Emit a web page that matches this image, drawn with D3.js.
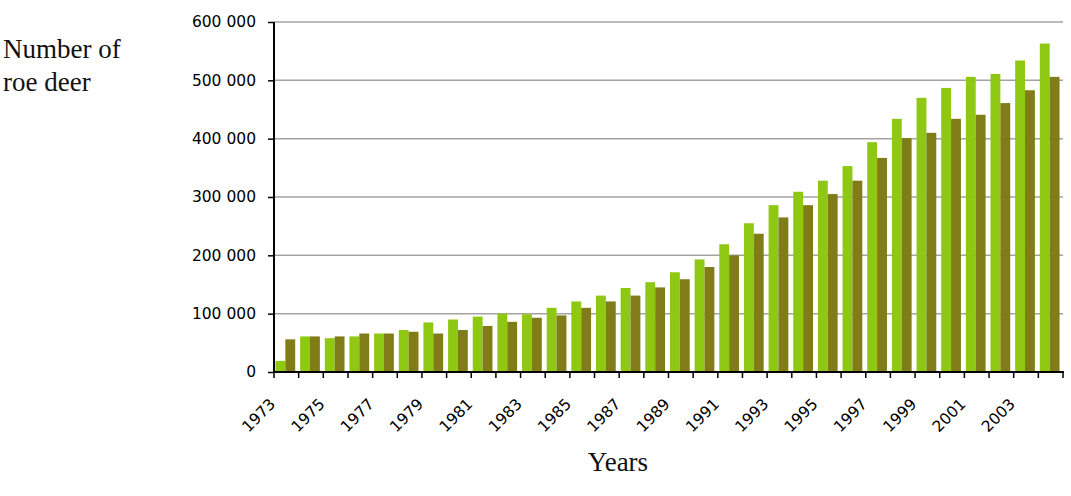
<!DOCTYPE html>
<html>
<head>
<meta charset="utf-8">
<script src="https://cdnjs.cloudflare.com/ajax/libs/d3/7.8.5/d3.min.js"></script>
<style>
  html, body { margin: 0; padding: 0; background: #fff; }
  svg { display: block; }
  .tick-label { font-family: "DejaVu Sans", Verdana, sans-serif; font-size: 15.5px; fill: #000; }
  .title { font-family: "Liberation Serif", "Times New Roman", serif; font-size: 27px; fill: #111; }
  .grid-line { stroke: #a3a3a3; stroke-width: 1.5; }
  .axis-line { stroke: #000; stroke-width: 2; }
  .axis-tick { stroke: #000; stroke-width: 1.5; }
</style>
</head>
<body>
<svg width="1071" height="496"></svg>
<script>
'use strict';

// data
var years = [1973, 1974, 1975, 1976, 1977, 1978, 1979, 1980, 1981, 1982, 1983,
             1984, 1985, 1986, 1987, 1988, 1989, 1990, 1991, 1992, 1993, 1994,
             1995, 1996, 1997, 1998, 1999, 2000, 2001, 2002, 2003, 2004];
var valuesLight = [19000, 61000, 58000, 61000, 66000, 72000, 85000, 90000, 95000, 100000, 99000,
                   110000, 121000, 131000, 144000, 154000, 171000, 193000, 219000, 255000, 286000, 309000,
                   328000, 353000, 394000, 434000, 470000, 487000, 506000, 511000, 534000, 563000];
var valuesDark = [56000, 61000, 61000, 66000, 66000, 69000, 66000, 72000, 79000, 86000, 93000,
                  97000, 110000, 121000, 131000, 145000, 159000, 180000, 200000, 237000, 265000, 286000,
                  305000, 328000, 367000, 401000, 410000, 434000, 441000, 461000, 483000, 506000];
var seriesNames = ['light', 'dark'];
var seriesColors = ['#8fc812', '#807c18'];
var yTicks = [0, 100000, 200000, 300000, 400000, 500000, 600000];
var xTickLabels = ['1973', '1975', '1977', '1979', '1981', '1983', '1985', '1987',
                   '1989', '1991', '1993', '1995', '1997', '1999', '2001', '2003'];

var svg = d3.select('svg');
var margin = { top: 22, right: 8, bottom: 124, left: 274 };
var width = 1071, height = 496;
var innerWidth = width - margin.left - margin.right;
var innerHeight = height - margin.top - margin.bottom;

var xScale = d3.scaleBand().domain(years).range([0, innerWidth]).padding(0);
var bw = xScale.bandwidth();
var xInner = d3.scaleBand().domain(seriesNames).range([bw * 0.06, bw * 0.86]).padding(0);
var yScale = d3.scaleLinear().domain([0, 600000]).range([innerHeight, 0]);

var fmt = d3.formatLocale({ decimal: '.', thousands: ' ', grouping: [3], currency: ['', ''] }).format(',');

var inner = svg.append('g').attr('transform', 'translate(' + margin.left + ',' + margin.top + ')');

// horizontal grid
inner.append('g').selectAll('line').data(yTicks.filter(function (d) { return d > 0; }))
  .enter().append('line').attr('class', 'grid-line')
  .attr('x1', 0).attr('x2', innerWidth)
  .attr('y1', function (d) { return yScale(d); })
  .attr('y2', function (d) { return yScale(d); });

// bars
var rows = years.map(function (y, i) {
  return { year: y, values: [valuesLight[i], valuesDark[i]] };
});
var groups = inner.append('g').selectAll('g').data(rows).enter().append('g')
  .attr('transform', function (d) { return 'translate(' + xScale(d.year) + ',0)'; });
groups.selectAll('rect').data(function (d) { return d.values; }).enter().append('rect')
  .attr('x', function (d, i) { return xInner(seriesNames[i]); })
  .attr('width', xInner.bandwidth())
  .attr('y', function (d) { return yScale(d); })
  .attr('height', function (d) { return innerHeight - yScale(d); })
  .attr('fill', function (d, i) { return seriesColors[i]; });

// y axis
var yAxis = d3.axisLeft(yScale).tickValues(yTicks).tickSize(6).tickPadding(12).tickFormat(fmt);
var ya = inner.append('g').call(yAxis);
ya.select('.domain').remove();
ya.selectAll('.tick line').attr('class', 'axis-tick');
ya.selectAll('.tick text').attr('class', 'tick-label');
ya.attr('font-family', null).attr('font-size', null);
inner.append('line').attr('class', 'axis-line')
  .attr('x1', 0).attr('x2', 0).attr('y1', 0).attr('y2', innerHeight + 1);

// x axis: ticks at category boundaries
var bounds = years.map(function (y) { return xScale(y); }).concat([innerWidth]);
var xa = inner.append('g').attr('transform', 'translate(0,' + innerHeight + ')');
xa.selectAll('line.axis-tick').data(bounds).enter().append('line').attr('class', 'axis-tick')
  .attr('x1', function (d) { return d; }).attr('x2', function (d) { return d; })
  .attr('y1', 0).attr('y2', 6);
xa.append('line').attr('class', 'axis-line').attr('x1', -1).attr('x2', innerWidth + 1).attr('y1', 0).attr('y2', 0);
xa.selectAll('text').data(xTickLabels).enter().append('text').attr('class', 'tick-label')
  .attr('text-anchor', 'end')
  .attr('transform', function (d) {
    var cx = xScale(+d) + bw / 2 - 10;
    return 'translate(' + cx + ',33) rotate(-45)';
  })
  .text(function (d) { return d; });

// titles
svg.append('text').attr('class', 'title').attr('x', 3).attr('y', 58).text('Number of');
svg.append('text').attr('class', 'title').attr('x', 3).attr('y', 91).text('roe deer');
svg.append('text').attr('class', 'title').attr('x', 618).attr('y', 471).attr('text-anchor', 'middle').text('Years');
</script>
</body>
</html>
